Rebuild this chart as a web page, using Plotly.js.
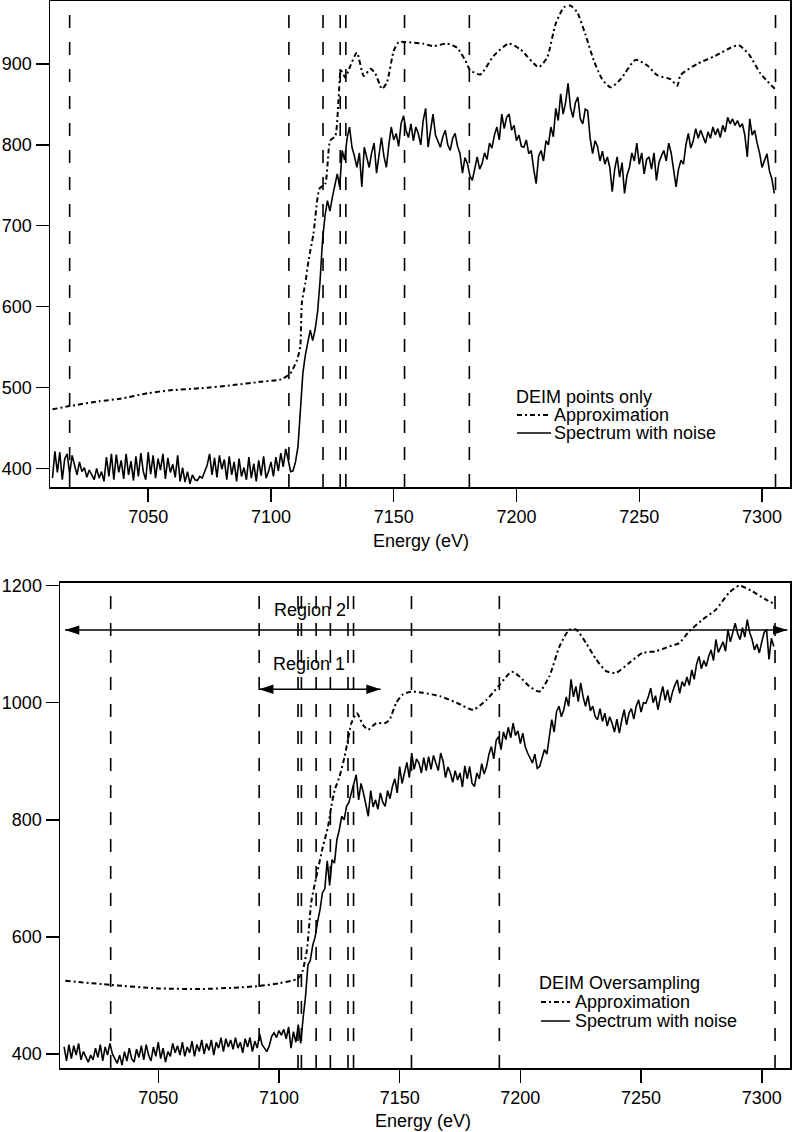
<!DOCTYPE html>
<html>
<head>
<meta charset="utf-8">
<script src="https://cdn.plot.ly/plotly-3.0.1.min.js"></script>
<style>
html,body{margin:0;padding:0;background:#fff;}
#chart{width:792px;height:1132px;}
</style>
</head>
<body>
<div id="chart"></div>
<script>
// energy grid of the noisy spectra (eV)
const specStart = 7011;
const specStep = 1;

// top panel: DEIM points only
const topSpectrum = [
  388,421,395,420,386,412,418,393,416,404, // 7011
  392,408,396,401,389,398,392,386,400,388, // 7021
  396,384,414,390,418,386,417,395,410,387, // 7031
  418,392,409,385,415,390,419,396,386,420, // 7041
  393,416,388,412,398,418,387,413,395,405, // 7051
  389,416,384,401,383,396,381,392,386,385, // 7061
  390,388,396,404,418,392,413,389,416,399, // 7071
  411,386,415,392,408,384,412,390,401,386, // 7081
  414,388,406,384,410,391,415,388,396,408, // 7091
  390,414,397,419,402,424,411,396,397,408, // 7101
  427,478,518,540,556,571,558,572,594,632, // 7111
  682,712,731,718,735,748,764,748,793,781, // 7121
  808,822,797,786,772,790,748,797,784,772, // 7131
  790,802,765,790,809,786,772,800,822,806, // 7141
  814,798,826,836,818,809,826,805,822,814, // 7151
  800,830,845,797,820,838,812,804,797,810, // 7161
  818,800,793,808,814,798,789,765,784,777, // 7171
  762,756,772,785,770,777,790,782,802,796, // 7181
  812,822,806,838,820,834,838,818,824,805, // 7191
  812,798,797,806,789,793,770,752,786,793, // 7201
  780,805,800,822,810,845,830,863,838,852, // 7211
  876,846,834,852,859,832,826,844,842,808, // 7221
  789,805,798,780,792,776,785,772,742,770, // 7231
  785,760,778,740,762,772,790,780,802,776, // 7241
  790,764,782,785,770,790,756,778,786,793, // 7251
  780,802,790,770,748,770,781,776,800,814, // 7261
  796,805,820,808,818,810,802,816,808,822, // 7271
  812,820,809,824,816,834,826,832,824,830, // 7281
  822,826,812,785,832,812,818,802,790,772, // 7291
  782,789,768,758,740                      // 7301
];
const topApproxE = [7011,7018,7030,7038.5,7050,7059,7071,7084.6,7095.6,7104,7107.8,7110.6,7111.9,7112.6,7114,7115.3,7117.3,7119.8,7122.1,7124.1,7126.2,7127.5,7128.5,7130.3,7131.6,7135,7137.8,7140.5,7142.5,7145.2,7147.2,7150,7152,7154.7,7162,7166,7171.7,7175.8,7179.2,7181.2,7185.3,7190.7,7196.8,7201.6,7209,7212.5,7215.9,7219.3,7222,7224.7,7228,7231.5,7234.9,7238.3,7242.4,7248.5,7253.3,7257.3,7262.8,7265.5,7266.8,7273.6,7281,7287.2,7290.6,7294.6,7299.4,7305.6];
const topApproxV = [473,477,483,486,493,496.5,499,503,507,510,517,534,550,605,629,657,690,746,752,805,811,855,892,883,892,914,885,894,888,869,877,916,927,927,925,922,925,920,904,892,887,910,925,918,896,908,949,970,972,964,937,904,881,871,881,905,898,886,881,873,886,900,910,920,923,912,888,868];
const topDeim = [7018, 7107.3, 7121.2, 7128.2, 7130.5, 7154.4, 7180.8, 7305.5];

// bottom panel: DEIM oversampling
const bottomSpectrum = [
  412,388,416,392,414,398,418,390,404,396, // 7011
  386,398,390,410,394,416,388,412,398,418, // 7021
  400,392,384,398,381,404,388,410,392,386, // 7031
  408,394,414,390,416,398,388,412,396,420, // 7041
  392,410,386,404,396,418,402,414,398,420, // 7051
  396,412,402,422,396,416,404,424,400,418, // 7061
  406,424,398,420,410,428,404,426,412,424, // 7071
  408,428,410,420,402,426,412,428,404,422, // 7081
  410,434,416,410,404,414,430,436,428,440, // 7091
  432,442,426,446,410,438,420,450,418,461, // 7101
  498,552,560,586,600,626,646,675,682,730, // 7111
  688,732,726,766,783,806,800,823,830,846, // 7121
  860,877,834,862,846,826,806,850,822,834, // 7131
  818,846,830,823,850,836,857,870,846,891, // 7141
  862,880,898,872,914,886,904,897,880,906, // 7151
  884,908,886,910,897,884,914,900,872,890, // 7161
  880,864,884,868,880,856,892,870,891,862, // 7171
  857,880,870,896,878,891,912,925,904,936, // 7181
  942,920,950,937,958,940,965,944,952,930, // 7191
  948,925,914,906,897,912,888,891,906,920, // 7201
  912,946,971,950,985,994,976,988,1010,994, // 7211
  1040,1010,1028,1002,1034,1010,994,1012,986,994, // 7221
  976,971,990,968,982,960,976,965,950,972, // 7231
  948,970,988,962,982,990,972,994,1005,984, // 7241
  1000,999,1010,1025,1000,1012,988,1010,1028,1004, // 7251
  1022,1000,1018,1030,1039,1016,1036,1028,1044,1030, // 7261
  1056,1040,1066,1079,1058,1072,1062,1079,1090,1072, // 7271
  1108,1086,1096,1104,1088,1125,1104,1120,1136,1118, // 7281
  1108,1128,1112,1142,1120,1108,1090,1100,1085,1104, // 7291
  1120,1125,1074,1110,1096                           // 7301
];
const bottomApproxE = [7011.5,7030.3,7050,7067.5,7081,7091.8,7100.3,7107.5,7109.5,7111.6,7113.4,7115.5,7118.2,7120.3,7121.7,7123.1,7125.1,7127.2,7128.6,7130,7132.3,7134.8,7136.9,7140.3,7143.8,7145.8,7148.6,7151.3,7154.8,7159.6,7166.8,7173.6,7180.5,7186,7191.5,7196.4,7199.6,7203.7,7207.9,7212,7216.2,7220.3,7223.1,7227.2,7231.4,7235.5,7239.6,7245.1,7250.6,7256.2,7261.7,7265.8,7270,7275.5,7281,7286.5,7290.7,7296.2,7301.7,7305.2];
const bottomApproxV = [525,518,512,511,513,516,521,528,538,578,660,703,754,788,823,851,874,908,937,965,982,962,954,965,965,971,1000,1014,1019,1017,1011,1000,988,1005,1031,1053,1045,1028,1019,1045,1096,1125,1125,1102,1074,1054,1051,1068,1085,1088,1096,1102,1122,1142,1159,1188,1200,1190,1176,1169];
const bottomDeim = [7030.3, 7091.8, 7107.9, 7109.3, 7115.4, 7121.3, 7128.6, 7130.9, 7154.9, 7191.3, 7305.5];

// region arrows (eV extent, intensity level)
const region2E = [7011.4, 7310.6];
const region2Level = 1124;
const region1E = [7091.8, 7142.1];
const region1Level = 1023;

const xTicks = [7050, 7100, 7150, 7200, 7250, 7300];
const topYTicks = [400, 500, 600, 700, 800, 900];
const bottomYTicks = [400, 600, 800, 1000, 1200];

const W = 792, H = 1132;
const FONT = 'Liberation Sans, Arial, Helvetica, sans-serif';
const px = v => v / W;
const py = v => 1 - v / H;

const approxDash = '5px,3px,2px,3px';

function axisStyle(extra){
  return Object.assign({
    showline:true, mirror:true, linecolor:'#000', linewidth:1.5,
    ticks:'outside', ticklen:13, tickwidth:1.5, tickcolor:'#000',
    showgrid:false, zeroline:false,
    tickfont:{family:FONT, size:18, color:'#000'}
  }, extra);
}

function arrowTrace(E, level, xa, ya){
  return {
    type:'scatter', mode:'lines+markers', xaxis:xa, yaxis:ya,
    x:E, y:[level, level],
    line:{color:'#000', width:1.5},
    marker:{symbol:'arrow', size:15, angle:[-90, 90], color:'#000'},
    cliponaxis:false, showlegend:false, hoverinfo:'skip'
  };
}

const traces = [
  {type:'scatter', mode:'lines', x0:specStart, dx:specStep, y:topSpectrum,
   line:{color:'#000', width:1.6}, name:'Spectrum with noise', showlegend:false},
  {type:'scatter', mode:'lines', x:topApproxE, y:topApproxV,
   line:{color:'#000', width:2, dash:approxDash, shape:'spline', smoothing:0.6}, name:'Approximation', showlegend:false},
  {type:'scatter', mode:'lines', x0:specStart, dx:specStep, y:bottomSpectrum, xaxis:'x2', yaxis:'y2',
   line:{color:'#000', width:1.6}, name:'Spectrum with noise', showlegend:false},
  {type:'scatter', mode:'lines', x:bottomApproxE, y:bottomApproxV, xaxis:'x2', yaxis:'y2',
   line:{color:'#000', width:2, dash:approxDash, shape:'spline', smoothing:0.6}, name:'Approximation', showlegend:false},
  arrowTrace(region2E, region2Level, 'x2', 'y2'),
  arrowTrace(region1E, region1Level, 'x2', 'y2')
];

const shapes = [];
topDeim.forEach(e => shapes.push({type:'line', xref:'x', yref:'y domain', x0:e, x1:e, y0:0, y1:1,
  line:{color:'#000', width:1.6, dash:'13px,14px'}}));
bottomDeim.forEach(e => shapes.push({type:'line', xref:'x2', yref:'y2 domain', x0:e, x1:e, y0:0, y1:1,
  line:{color:'#000', width:1.6, dash:'13px,14px'}}));

// legend keys drawn by hand (borderless, tight rows)
function legendKey(x0, x1, yPix, dash){
  shapes.push({type:'line', xref:'paper', yref:'paper', x0:px(x0), x1:px(x1), y0:py(yPix), y1:py(yPix),
    line:{color:'#000', width:dash ? 2 : 1.5, dash:dash || 'solid'}});
}
legendKey(517, 551, 415, approxDash);
legendKey(517, 551, 433, null);
legendKey(541, 570, 1002, approxDash);
legendKey(541, 570, 1021, null);

function txt(text, x, y, extra){
  return Object.assign({text, x, y, xref:'paper', yref:'paper', xanchor:'left', yanchor:'middle',
    showarrow:false, font:{family:FONT, size:18, color:'#000'}}, extra);
}

const annotations = [
  txt('DEIM points only', px(514), py(397)),
  txt('Approximation', px(552), py(415)),
  txt('Spectrum with noise', px(552), py(433)),
  txt('DEIM Oversampling', px(537), py(983)),
  txt('Approximation', px(573), py(1002)),
  txt('Spectrum with noise', px(573), py(1021)),
  // axis titles
  txt('Energy (eV)', px(421), py(541), {xanchor:'center'}),
  txt('Energy (eV)', px(423), py(1121), {xanchor:'center'}),
  txt('Region 2', 7112.7, 1159, {xref:'x2', yref:'y2', xanchor:'center'}),
  txt('Region 1', 7112.3, 1066, {xref:'x2', yref:'y2', xanchor:'center'})
];

const layout = {
  width:W, height:H,
  margin:{l:0, r:0, t:0, b:0},
  paper_bgcolor:'#fff', plot_bgcolor:'#fff',
  font:{family:FONT, size:18, color:'#000'},
  showlegend:false,
  xaxis:axisStyle({domain:[px(50), px(790)], anchor:'y', range:[7010, 7311.4], tickvals:xTicks}),
  yaxis:axisStyle({domain:[py(487), py(0.8)], anchor:'x', range:[377, 978], tickvals:topYTicks}),
  xaxis2:axisStyle({domain:[px(60), px(790)], anchor:'y2', range:[7009.3, 7311.7], tickvals:xTicks}),
  yaxis2:axisStyle({domain:[py(1068), py(582.7)], anchor:'x2', range:[376, 1205], tickvals:bottomYTicks}),
  shapes, annotations
};

Plotly.newPlot('chart', traces, layout, {displayModeBar:false, staticPlot:true});
</script>
</body>
</html>
